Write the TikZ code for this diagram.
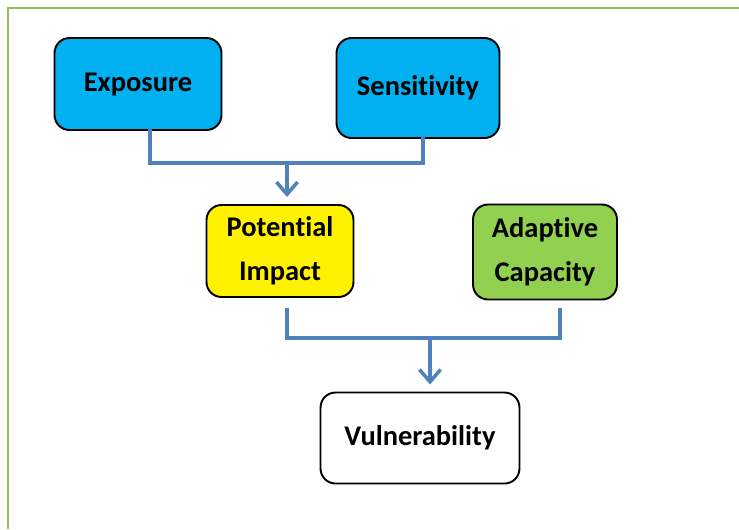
\documentclass[tikz,border=0pt]{standalone}
\usepackage{fontspec}
\setmainfont{Carlito}[Ligatures=NoCommon]
\usepackage{tikz}
\usetikzlibrary{arrows.meta}

\definecolor{framegreen}{RGB}{155,187,89}
\definecolor{linkblue}{RGB}{79,129,189}
\definecolor{boxblue}{RGB}{0,176,240}
\definecolor{boxgreen}{RGB}{146,208,80}

\tikzset{
  box/.style={draw=black,line width=1.1pt,rounded corners=0.3cm,align=center,
    font=\fontsize{16.2}{25}\selectfont\bfseries,inner sep=0pt},
  link/.style={draw=linkblue,line width=2.8pt},
  arrow/.style={link,-{Straight Barb[length=7pt,width=12pt,line width=2pt]},shorten >=4pt}
}

\begin{document}
\begin{tikzpicture}[x=0.02cm,y=-0.02cm]
\useasboundingbox (0,0) rectangle (739,529);
\draw[framegreen,line width=1.6pt] (8,529) -- (8,8) -- (739,8);
\node[box,fill=boxblue,minimum width=3.34cm,minimum height=1.84cm] (expo) at (138,84) {Exposure};
\node[box,fill=boxblue,minimum width=3.26cm,minimum height=2cm] (sens) at (418,88) {Sensitivity};
\node[box,fill=yellow,minimum width=2.94cm,minimum height=1.84cm] (pot) at (280,251) {Potential\\Impact};
\node[box,fill=boxgreen,minimum width=2.88cm,minimum height=1.9cm] (adap) at (545,252) {Adaptive\\Capacity};
\node[box,fill=white,minimum width=3.98cm,minimum height=1.82cm] (vuln) at (420,438) {Vulnerability};
% joins
\coordinate (j1) at (287,163);
\coordinate (j2) at (430,338);
\draw[link] ([xshift=0.24cm,yshift=0.05cm]expo.south) |- (j1) -| ([xshift=0.1cm,yshift=0.05cm]sens.south);
\draw[arrow] (j1) -- (j1 |- pot.north);
\draw[link] ([xshift=0.14cm,yshift=-0.2cm]pot.south) |- (j2) -| ([xshift=0.3cm,yshift=-0.16cm]adap.south);
\draw[arrow] (j2) -- (j2 |- vuln.north);
\end{tikzpicture}
\end{document}
